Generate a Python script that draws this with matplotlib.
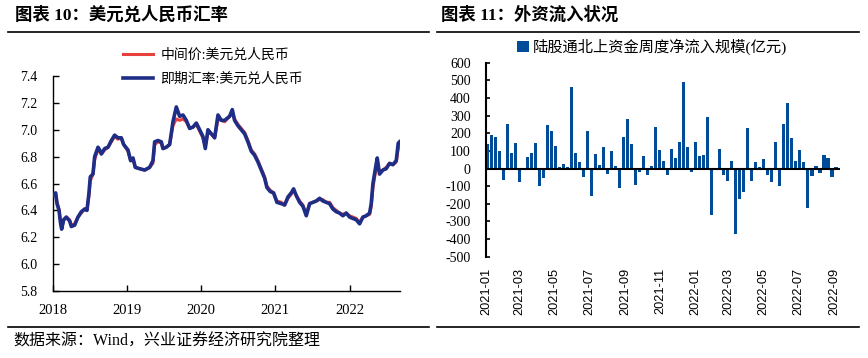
import matplotlib
matplotlib.use("Agg")
import matplotlib.pyplot as plt
from matplotlib.lines import Line2D
from matplotlib.patches import Patch
import pandas as pd

plt.rcParams['font.family'] = ['Liberation Serif', 'Noto Sans CJK SC', 'DejaVu Sans']

# ---------------- Data: left chart (USD/CNY) ----------------
fx_x = [2018.000, 2018.036, 2018.054, 2018.081, 2018.103, 2018.117, 2018.144, 2018.180, 2018.225, 2018.247,
        2018.292, 2018.337, 2018.382, 2018.427, 2018.458, 2018.485, 2018.503, 2018.539, 2018.562, 2018.607,
        2018.629, 2018.652, 2018.697, 2018.742, 2018.787, 2018.831, 2018.876, 2018.921, 2018.953,
        2019.011, 2019.047, 2019.079, 2019.110, 2019.169, 2019.236, 2019.303, 2019.348, 2019.371, 2019.416,
        2019.461, 2019.483, 2019.528, 2019.573, 2019.618, 2019.663, 2019.708, 2019.753, 2019.798, 2019.843,
        2019.888, 2019.933, 2019.978,
        2020.022, 2020.054, 2020.090, 2020.135, 2020.180, 2020.225, 2020.270, 2020.315, 2020.382, 2020.418,
        2020.449, 2020.494, 2020.539, 2020.584, 2020.629, 2020.674, 2020.719, 2020.764, 2020.809, 2020.854,
        2020.885, 2020.930, 2020.975,
        2021.020, 2021.079, 2021.124, 2021.169, 2021.213, 2021.245, 2021.281, 2021.326, 2021.371, 2021.416,
        2021.461, 2021.506, 2021.551, 2021.596, 2021.640, 2021.685, 2021.730, 2021.775, 2021.820, 2021.865,
        2021.910, 2021.955,
        2022.000, 2022.045, 2022.090, 2022.135, 2022.180, 2022.225, 2022.270, 2022.292, 2022.315, 2022.351,
        2022.373, 2022.404, 2022.449, 2022.494, 2022.539, 2022.584, 2022.629, 2022.656, 2022.674]

spot = [6.51, 6.53, 6.45, 6.40, 6.30, 6.26, 6.33, 6.35, 6.32, 6.28, 6.29, 6.35, 6.39, 6.41, 6.40, 6.53, 6.65,
        6.67, 6.80, 6.87, 6.85, 6.82, 6.86, 6.87, 6.92, 6.96, 6.94, 6.94, 6.89,
        6.85, 6.77, 6.79, 6.72, 6.71, 6.70, 6.72, 6.77, 6.91, 6.92, 6.91, 6.86, 6.87, 6.89, 7.06, 7.17, 7.10,
        7.11, 7.07, 7.01, 7.02, 7.05, 7.00,
        6.95, 6.86, 7.00, 6.97, 6.94, 7.11, 7.07, 7.07, 7.10, 7.15, 7.07, 7.03, 7.00, 6.97, 6.91, 6.84, 6.81,
        6.76, 6.70, 6.64, 6.57, 6.54, 6.53,
        6.46, 6.45, 6.44, 6.50, 6.53, 6.56, 6.51, 6.46, 6.43, 6.36, 6.45, 6.46, 6.47, 6.49, 6.47, 6.46, 6.45,
        6.41, 6.39, 6.38, 6.36, 6.38,
        6.35, 6.34, 6.33, 6.30, 6.35, 6.36, 6.38, 6.45, 6.60, 6.72, 6.79, 6.67, 6.70, 6.71, 6.75, 6.74, 6.77,
        6.90, 6.91]

mid = [6.52, 6.52, 6.46, 6.41, 6.31, 6.28, 6.33, 6.35, 6.33, 6.29, 6.30, 6.35, 6.38, 6.41, 6.40, 6.51, 6.62,
       6.67, 6.78, 6.85, 6.84, 6.82, 6.85, 6.87, 6.91, 6.95, 6.93, 6.94, 6.89,
       6.84, 6.77, 6.78, 6.72, 6.71, 6.70, 6.72, 6.75, 6.89, 6.91, 6.90, 6.86, 6.87, 6.89, 7.03, 7.08, 7.07,
       7.08, 7.06, 7.01, 7.02, 7.04, 6.99,
       6.94, 6.88, 6.98, 6.97, 6.94, 7.08, 7.07, 7.06, 7.10, 7.12, 7.08, 7.04, 7.01, 6.98, 6.92, 6.85, 6.82,
       6.77, 6.71, 6.65, 6.58, 6.55, 6.53,
       6.47, 6.46, 6.44, 6.49, 6.52, 6.55, 6.51, 6.47, 6.44, 6.37, 6.45, 6.46, 6.47, 6.48, 6.48, 6.46, 6.46,
       6.42, 6.40, 6.38, 6.37, 6.38,
       6.36, 6.35, 6.34, 6.31, 6.35, 6.36, 6.37, 6.43, 6.57, 6.69, 6.75, 6.68, 6.70, 6.72, 6.75, 6.74, 6.76,
       6.86, 6.88]

fx_year_ticks = [2018, 2019, 2020, 2021, 2022]
fx_yticks = [5.8, 6.0, 6.2, 6.4, 6.6, 6.8, 7.0, 7.2, 7.4]
label_mid = "中间价:美元兑人民币"
label_spot = "即期汇率:美元兑人民币"

# ---------------- Data: right chart (northbound flows) ----------------
flow_start = "2021-01-03"
flows = [140, 190, 180, 100, -65, 250, 90, 145, -75, -10,
         65, 90, 145, -100, -55, 245, 210, 125, 10, 25,
         10, 465, 90, 35, -50, 210, -155, 85, 20, 120,
         -30, 100, 15, -110, 180, 280, 140, -95, -20, 70,
         -35, 15, 235, 105, 45, -35, 110, 60, 150, 490,
         120, -20, 150, 70, 75, 290, -265, 0, 110, -35,
         -70, 45, -370, -175, -135, 230, -70, 35, 10, 55,
         -35, -75, 150, -100, 250, 370, 175, 45, 105, 35,
         -225, -45, 15, -25, 75, 60, -50, 10]
flow_dates = pd.date_range(flow_start, periods=len(flows), freq="7D")
flow_ticks = ["2021-01", "2021-03", "2021-05", "2021-07", "2021-09", "2021-11",
              "2022-01", "2022-03", "2022-05", "2022-07", "2022-09"]
flow_yticks = [-500, -400, -300, -200, -100, 0, 100, 200, 300, 400, 500, 600]
label_flow = "陆股通北上资金周度净流入规模(亿元)"

W, H = 868, 358
fig = plt.figure(figsize=(W / 100, H / 100), dpi=100)

RED = '#E8403C'
NAVY = '#1E2D85'
BAR = '#004C99'

# ---------------- Left chart ----------------
ax1 = fig.add_axes([53 / W, 1 - 291 / H, (400 - 53) / W, (291 - 76) / H])
l1, = ax1.plot(fx_x, mid, color=RED, lw=2.2, zorder=2)
l2, = ax1.plot(fx_x, spot, color=NAVY, lw=2.6, zorder=3)
ax1.set_xlim(2018.0, 2022.68)
ax1.set_ylim(5.8, 7.4)
ax1.set_yticks(fx_yticks)
ax1.set_yticklabels([f"{v:.1f}" for v in fx_yticks], fontsize=10)
ax1.set_xticks(fx_year_ticks)
ax1.set_xticklabels([str(y) for y in fx_year_ticks], fontsize=10.5)
ax1.tick_params(axis='y', direction='in', length=4, width=1, pad=11)
ax1.tick_params(axis='x', direction='in', length=4, width=1, pad=9)
for s in ['top', 'right']:
    ax1.spines[s].set_visible(False)
for s in ['left', 'bottom']:
    ax1.spines[s].set_linewidth(1.0)
fig.legend([l1, l2], [label_mid, label_spot], loc='center',
           bbox_to_anchor=(213 / W, 1 - 67 / H), bbox_transform=fig.transFigure,
           frameon=False, fontsize=10, handlelength=2.2, handletextpad=0.5,
           labelspacing=0.8)

# ---------------- Right chart ----------------
ax2 = fig.add_axes([486 / W, 1 - 256.7 / H, (840 - 486) / W, (256.7 - 62.7) / H])
ax2.bar(flow_dates, flows, width=5.5, color=BAR, zorder=2)
ax2.axhline(0, color='black', lw=1.5, zorder=3)
ax2.set_xlim(pd.Timestamp("2021-01-01"), pd.Timestamp("2022-09-11"))
ax2.set_ylim(-500, 600)
ax2.set_yticks(flow_yticks)
ax2.set_yticklabels([str(v) for v in flow_yticks], fontsize=10)
tick_pos = [pd.Timestamp(t + "-01") for t in flow_ticks]
ax2.set_xticks(tick_pos)
ax2.set_xticklabels(flow_ticks, rotation=90, fontsize=9.2, family='Liberation Sans')
ax2.tick_params(axis='x', length=0, pad=8)
ax2.tick_params(axis='y', direction='in', length=3, width=1.2, pad=11)
for s in ['top', 'right', 'bottom']:
    ax2.spines[s].set_visible(False)
ax2.spines['left'].set_linewidth(1.5)
fig.legend([Patch(facecolor=BAR, edgecolor='none')], [label_flow], loc='center',
           bbox_to_anchor=(652 / W, 1 - 47 / H), bbox_transform=fig.transFigure,
           frameon=False, fontsize=11, handlelength=0.75, handleheight=0.75,
           handletextpad=0.25)

# ---------------- Titles, rules, source ----------------
fig.text(15 / W, 1 - 15 / H, "图表 10：美元兑人民币汇率", fontsize=12.5, fontweight='bold',
         ha='left', va='center')
fig.text(441 / W, 1 - 15 / H, "图表 11：外资流入状况", fontsize=12.5, fontweight='bold',
         ha='left', va='center')
for x0, x1 in [(8, 429), (437, 859)]:
    fig.add_artist(Line2D([x0 / W, x1 / W], [1 - 31.5 / H] * 2, color='black', lw=1.2))
    fig.add_artist(Line2D([x0 / W, x1 / W], [1 - 326.5 / H] * 2, color='black', lw=1.2))
fig.text(13 / W, 1 - 342 / H, "数据来源：Wind，兴业证券经济研究院整理", fontsize=11.5,
         ha='left', va='center')

fig.savefig("out.png", dpi=100)
